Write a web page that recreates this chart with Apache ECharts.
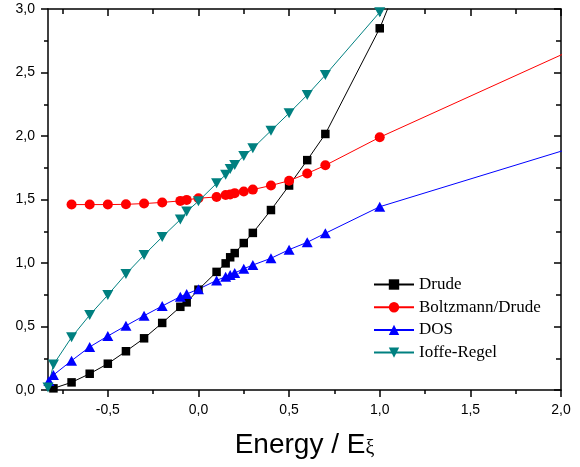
<!DOCTYPE html>
<html>
<head>
<meta charset="utf-8">
<script src="https://cdn.jsdelivr.net/npm/echarts@6/dist/echarts.min.js"></script>
<style>html,body{margin:0;padding:0;background:#fff}#c{width:580px;height:467px}</style>
</head>
<body>
<div id="c"></div>
<script>
const seriesNames = ['Drude', 'Boltzmann/Drude', 'DOS', 'Ioffe-Regel'];
const drudeX = [-0.8,-0.7,-0.6,-0.5,-0.4,-0.3,-0.2,-0.1,-0.065,0,0.1,0.15,0.175,0.2,0.25,0.3,0.4,0.5,0.6,0.7,1.0,1.5];
const drudeY = [0.013,0.06,0.128,0.207,0.305,0.407,0.528,0.655,0.69,0.79,0.93,0.997,1.045,1.078,1.157,1.237,1.417,1.61,1.81,2.016,2.848,4.6];
const boltzX = [-0.7,-0.6,-0.5,-0.4,-0.3,-0.2,-0.1,-0.065,0,0.1,0.15,0.175,0.2,0.25,0.3,0.4,0.5,0.6,0.7,1.0,3.0];
const boltzY = [1.46,1.46,1.46,1.462,1.468,1.477,1.489,1.497,1.51,1.52,1.535,1.54,1.55,1.563,1.578,1.61,1.648,1.705,1.769,1.99,3.286];
const dosX = [-0.825,-0.8,-0.7,-0.6,-0.5,-0.4,-0.3,-0.2,-0.1,-0.065,0,0.1,0.15,0.175,0.2,0.25,0.3,0.4,0.5,0.6,0.7,1.0,3.0];
const dosY = [0.07,0.118,0.231,0.339,0.425,0.506,0.585,0.661,0.735,0.756,0.794,0.863,0.892,0.906,0.921,0.955,0.984,1.037,1.105,1.163,1.234,1.443,2.317];
const ioffeX = [-0.83,-0.8,-0.7,-0.6,-0.5,-0.4,-0.3,-0.2,-0.1,-0.065,0,0.1,0.15,0.175,0.2,0.25,0.3,0.4,0.5,0.6,0.7,1.0,1.5];
const ioffeY = [0.02,0.2,0.415,0.59,0.748,0.913,1.063,1.205,1.342,1.405,1.487,1.627,1.695,1.74,1.772,1.843,1.903,2.042,2.18,2.323,2.48,2.975,3.83];
const xMajorTicks = [-0.5,0,0.5,1.0,1.5,2.0];
const xMinorTicks = [-0.75,-0.25,0.25,0.75,1.25,1.75];
const xTickLabels = ['-0,5','0,0','0,5','1,0','1,5','2,0'];
const yTickLabels = ['0,0','0,5','1,0','1,5','2,0','2,5','3,0'];

const colors = ['#000000', '#ff0000', '#0000ff', '#008080'];
const zip = (xs, ys) => xs.map((x, i) => [x, ys[i]]);
const XMIN = -0.83, XMAX = 2.0;
const lineStyleAxis = { color: '#000', width: 1.5 };
const fmtX = v => { const i = xMajorTicks.findIndex(t => Math.abs(t - v) < 1e-6); return i >= 0 ? xTickLabels[i] : ''; };
const fmtY = v => { const i = Math.round(v / 0.5); return yTickLabels[i] !== undefined ? yTickLabels[i] : ''; };

const chart = echarts.init(document.getElementById('c'), null, { renderer: 'canvas' });
const mk = (name, data, color, symbol, size, rotate) => ({
  name, type: 'line', data, xAxisIndex: 0, yAxisIndex: 0,
  symbol, symbolSize: size, symbolRotate: rotate || 0, showAllSymbol: true,
  clip: true, animation: false,
  lineStyle: { color, width: 1 }, itemStyle: { color },
  emphasis: { disabled: true }
});
chart.setOption({
  animation: false,
  grid: { left: 48, right: 19, top: 9, bottom: 77, containLabel: false, outerBoundsMode: 'none' },
  legend: {
    orient: 'vertical', left: 368, top: 271,
    itemWidth: 40, itemHeight: 13, itemGap: 5.7,
    textStyle: { fontFamily: 'Liberation Serif', fontSize: 17, color: '#000', lineHeight: 17 },
    data: seriesNames
  },
  xAxis: [
    { type: 'value', min: XMIN, max: XMAX, position: 'bottom',
      axisLine: { onZero: false, lineStyle: lineStyleAxis },
      axisTick: { customValues: xMajorTicks, length: 7, inside: false, lineStyle: lineStyleAxis },
      axisLabel: { customValues: xMajorTicks, formatter: fmtX, margin: 13, fontFamily: 'Liberation Sans', fontSize: 14, color: '#000' },
      splitLine: { show: false },
      name: '{a|Energy / E}{b|ξ}', nameLocation: 'middle', nameGap: 29,
      nameTextStyle: { rich: {
        a: { fontFamily: 'Liberation Sans', fontSize: 28, color: '#000', lineHeight: 40, verticalAlign: 'bottom' },
        b: { fontFamily: 'Liberation Serif', fontSize: 20, color: '#000', lineHeight: 20, verticalAlign: 'bottom' }
      } }
    },
    { type: 'value', min: XMIN, max: XMAX, position: 'bottom',
      axisLine: { show: false, onZero: false },
      axisTick: { customValues: xMinorTicks, length: 4, inside: false, lineStyle: lineStyleAxis },
      axisLabel: { show: false }, splitLine: { show: false } },
    { type: 'value', min: XMIN, max: XMAX, position: 'top',
      axisLine: { onZero: false, lineStyle: lineStyleAxis },
      axisTick: { customValues: xMajorTicks, length: 7, inside: true, lineStyle: lineStyleAxis },
      axisLabel: { show: false }, splitLine: { show: false } },
    { type: 'value', min: XMIN, max: XMAX, position: 'top',
      axisLine: { show: false, onZero: false },
      axisTick: { customValues: xMinorTicks, length: 5, inside: true, lineStyle: lineStyleAxis },
      axisLabel: { show: false }, splitLine: { show: false } }
  ],
  yAxis: [
    { type: 'value', min: 0, max: 3, interval: 0.5, position: 'left',
      axisLine: { show: true, onZero: false, lineStyle: lineStyleAxis },
      axisTick: { show: true, length: 7, inside: false, lineStyle: lineStyleAxis },
      minorTick: { show: true, splitNumber: 2, length: 4, lineStyle: lineStyleAxis },
      axisLabel: { formatter: fmtY, margin: 13, fontFamily: 'Liberation Sans', fontSize: 14, color: '#000' },
      splitLine: { show: false } },
    { type: 'value', min: 0, max: 3, interval: 0.5, position: 'right',
      axisLine: { show: true, onZero: false, lineStyle: lineStyleAxis },
      axisTick: { show: true, length: 7, inside: true, lineStyle: lineStyleAxis },
      minorTick: { show: true, splitNumber: 2, length: 5, lineStyle: lineStyleAxis },
      axisLabel: { show: false }, splitLine: { show: false } }
  ],
  series: [
    mk(seriesNames[0], zip(drudeX, drudeY), colors[0], 'rect', 8.5),
    mk(seriesNames[1], zip(boltzX, boltzY), colors[1], 'circle', 10),
    mk(seriesNames[2], zip(dosX, dosY), colors[2], 'triangle', [11, 10]),
    mk(seriesNames[3], zip(ioffeX, ioffeY), colors[3], 'triangle', [11, 10], 180)
  ]
});
</script>
</body>
</html>
